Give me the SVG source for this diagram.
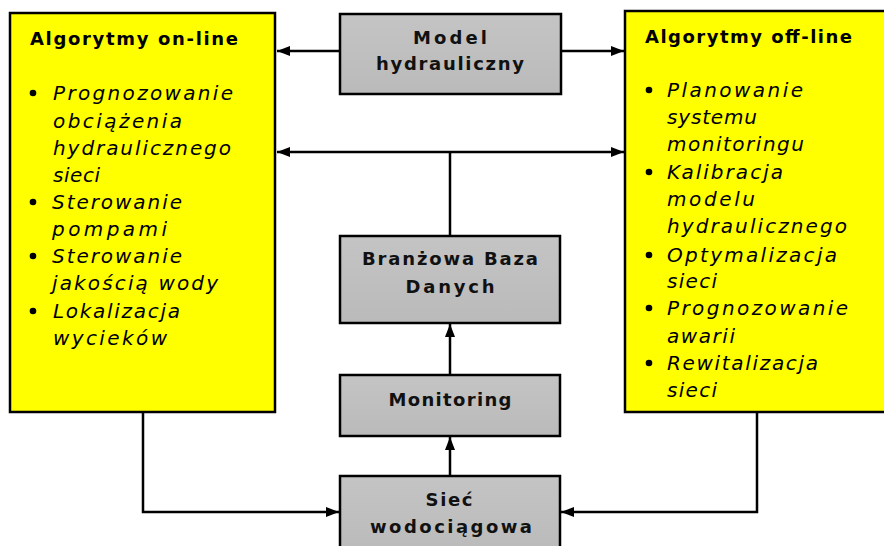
<svg xmlns="http://www.w3.org/2000/svg" width="884" height="546" viewBox="0 0 884 546">
  <style>
    .alg { fill: #ffff00; stroke: #000; stroke-width: 2.5; }
    .blk { fill: url(#grayFill); stroke: #000; stroke-width: 2.5; }
    .ttl { font-family: "DejaVu Sans", "Liberation Sans", sans-serif; font-weight: bold; font-size: 18px; fill: #000; }
    .itm { font-family: "DejaVu Sans", "Liberation Sans", sans-serif; font-style: italic; font-size: 20px; fill: #000; }
    .lbl { font-family: "DejaVu Sans", "Liberation Sans", sans-serif; font-weight: bold; font-size: 18px; fill: #111; text-anchor: middle; }
    .dot { fill: #000; }
    .ln { fill: none; stroke: #000; stroke-width: 2.5; }
  </style>
  <defs>
    <linearGradient id="grayFill" x1="0" y1="0" x2="0" y2="1">
      <stop offset="0" stop-color="#c4c4c4"/>
      <stop offset="1" stop-color="#bababa"/>
    </linearGradient>
    <marker id="head" viewBox="0 0 13 10" refX="13" refY="5" markerWidth="13" markerHeight="10" markerUnits="userSpaceOnUse" orient="auto-start-reverse">
      <path d="M0,0 L13,5 L0,10 Z" fill="#000"/>
    </marker>
  </defs>
  <rect width="884" height="546" fill="#fff"/>

  <!-- connectors -->
  <g id="connectors">
    <line class="ln" x1="339" y1="51" x2="277" y2="51" marker-end="url(#head)"/>
    <line class="ln" x1="561" y1="51" x2="624" y2="51" marker-end="url(#head)"/>
    <line class="ln" x1="277" y1="152" x2="624" y2="152" marker-start="url(#head)" marker-end="url(#head)"/>
    <line class="ln" x1="450" y1="152" x2="450" y2="236"/>
    <line class="ln" x1="450" y1="375" x2="450" y2="324" marker-end="url(#head)"/>
    <line class="ln" x1="450" y1="476" x2="450" y2="437" marker-end="url(#head)"/>
    <polyline class="ln" points="143,412 143,512 339,512" marker-end="url(#head)"/>
    <polyline class="ln" points="757,412 757,512 561,512" marker-end="url(#head)"/>
  </g>

  <!-- on-line algorithms -->
  <g id="online">
    <rect class="alg" x="10" y="13" width="265" height="399"/>
    <text class="ttl" x="30" y="45" textLength="208" lengthAdjust="spacing">Algorytmy on-line</text>
    <circle class="dot" cx="33" cy="93" r="3.3"/>
    <text class="itm" x="53" y="100" textLength="180" lengthAdjust="spacing">Prognozowanie</text>
    <text class="itm" x="53" y="128" textLength="129" lengthAdjust="spacing">obciążenia</text>
    <text class="itm" x="53" y="155" textLength="178" lengthAdjust="spacing">hydraulicznego</text>
    <text class="itm" x="53" y="182" textLength="47" lengthAdjust="spacing">sieci</text>
    <circle class="dot" cx="33" cy="202" r="3.3"/>
    <text class="itm" x="52" y="209" textLength="130" lengthAdjust="spacing">Sterowanie</text>
    <text class="itm" x="52" y="236" textLength="115" lengthAdjust="spacing">pompami</text>
    <circle class="dot" cx="33" cy="256" r="3.3"/>
    <text class="itm" x="52" y="263" textLength="130" lengthAdjust="spacing">Sterowanie</text>
    <text class="itm" x="52" y="290" textLength="166" lengthAdjust="spacing">jakością wody</text>
    <circle class="dot" cx="33" cy="311" r="3.3"/>
    <text class="itm" x="53" y="318" textLength="127" lengthAdjust="spacing">Lokalizacja</text>
    <text class="itm" x="53" y="345" textLength="114" lengthAdjust="spacing">wycieków</text>
  </g>

  <!-- hydraulic model -->
  <g id="model">
    <rect class="blk" x="340" y="14" width="221" height="80"/>
    <text class="lbl" x="450" y="44" textLength="74" lengthAdjust="spacing">Model</text>
    <text class="lbl" x="450" y="70" textLength="148" lengthAdjust="spacing">hydrauliczny</text>
  </g>

  <!-- off-line algorithms -->
  <g id="offline">
    <rect class="alg" x="625" y="11" width="270" height="401"/>
    <text class="ttl" x="645" y="43" textLength="207" lengthAdjust="spacing">Algorytmy off-line</text>
    <circle class="dot" cx="649" cy="90" r="3.3"/>
    <text class="itm" x="667" y="97" textLength="136" lengthAdjust="spacing">Planowanie</text>
    <text class="itm" x="667" y="124" textLength="90" lengthAdjust="spacing">systemu</text>
    <text class="itm" x="667" y="151" textLength="137" lengthAdjust="spacing">monitoringu</text>
    <circle class="dot" cx="649" cy="172" r="3.3"/>
    <text class="itm" x="667" y="179" textLength="116" lengthAdjust="spacing">Kalibracja</text>
    <text class="itm" x="667" y="206" textLength="88" lengthAdjust="spacing">modelu</text>
    <text class="itm" x="667" y="233" textLength="180" lengthAdjust="spacing">hydraulicznego</text>
    <circle class="dot" cx="649" cy="255" r="3.3"/>
    <text class="itm" x="667" y="262" textLength="170" lengthAdjust="spacing">Optymalizacja</text>
    <text class="itm" x="667" y="288" textLength="50" lengthAdjust="spacing">sieci</text>
    <circle class="dot" cx="649" cy="308" r="3.3"/>
    <text class="itm" x="667" y="315" textLength="181" lengthAdjust="spacing">Prognozowanie</text>
    <text class="itm" x="667" y="343" textLength="68" lengthAdjust="spacing">awarii</text>
    <circle class="dot" cx="649" cy="363" r="3.3"/>
    <text class="itm" x="667" y="370" textLength="151" lengthAdjust="spacing">Rewitalizacja</text>
    <text class="itm" x="667" y="397" textLength="50" lengthAdjust="spacing">sieci</text>
  </g>

  <!-- sector database -->
  <g id="baza">
    <rect class="blk" x="340" y="236" width="220" height="87"/>
    <text class="lbl" x="450" y="265" textLength="176" lengthAdjust="spacing">Branżowa Baza</text>
    <text class="lbl" x="450" y="293" textLength="89" lengthAdjust="spacing">Danych</text>
  </g>

  <!-- monitoring -->
  <g id="monitoring">
    <rect class="blk" x="340" y="375" width="220" height="61"/>
    <text class="lbl" x="450" y="406" textLength="123" lengthAdjust="spacing">Monitoring</text>
  </g>

  <!-- water network -->
  <g id="siec">
    <rect class="blk" x="340" y="476" width="220" height="80"/>
    <text class="lbl" x="449" y="506" textLength="47" lengthAdjust="spacing">Sieć</text>
    <text class="lbl" x="451" y="533" textLength="162" lengthAdjust="spacing">wodociągowa</text>
  </g>
</svg>
